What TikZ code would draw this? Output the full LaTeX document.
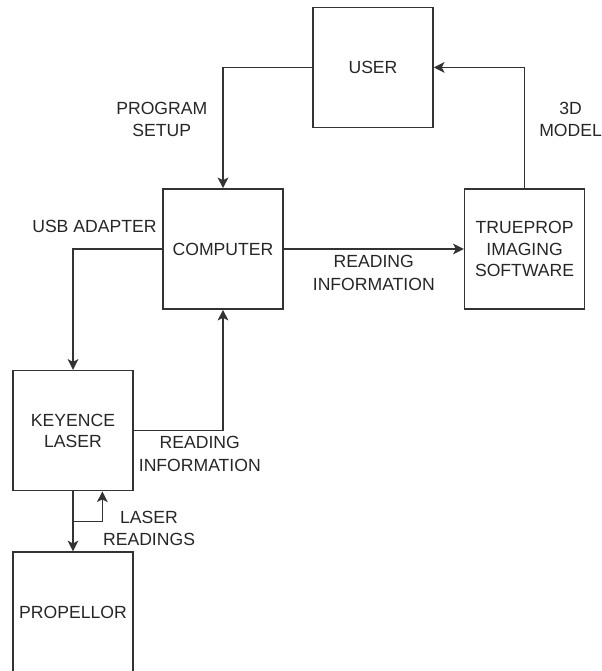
\documentclass[tikz,border=0pt]{standalone}
\usepackage{fontspec}
\setmainfont{Liberation Sans}
\usepackage{tikz}
\usetikzlibrary{arrows.meta,positioning,calc}

\begin{document}
\begin{tikzpicture}[
    node distance=45pt,
    font=\fontsize{13.2pt}{15.8pt}\selectfont,
    every node/.style={text=black!85},
    block/.style={rectangle, draw=black!80, line width=1.2pt, minimum width=90pt, minimum height=90pt, align=center, inner sep=2pt},
    lbl/.style={align=center, inner sep=0pt, font=\fontsize{13.2pt}{17pt}\selectfont},
    line/.style={draw=black!80, line width=1.1pt, -{Stealth[length=8pt, width=8pt, inset=2pt]}}
]
\useasboundingbox (-167.25pt,-316.5pt) rectangle (284.25pt,186.75pt);

% ----------------------------
% Nodes
% ----------------------------
\node[block] (computer) {COMPUTER};
\node[block, above=of computer, xshift=112.5pt] (user) {USER};
\node[block, right=135pt of computer] (trueprop) {TRUEPROP\\IMAGING\\SOFTWARE};
\node[block, below=of computer, xshift=-112.5pt] (keyence) {KEYENCE\\LASER};
\node[block, below=of keyence] (propellor) {PROPELLOR};

\coordinate (lasertap) at ($(keyence.south)!0.5!(propellor.north)$);
\coordinate (laserin) at ([xshift=22pt]keyence.south);

% ----------------------------
% Edges
% ----------------------------
\path[line] (user.west) -| node[lbl, pos=0.715, left=11.25pt] {PROGRAM\\SETUP} (computer.north);
\path[line] (trueprop.north) |- node[lbl, pos=0.285, right=10.5pt] {3D\\MODEL} (user.east);

\path[line] (computer.east) -- node[lbl, below=4pt] {READING\\INFORMATION} (trueprop.west);
\path[line] (computer.west) -| node[lbl, pos=0.38, above=12pt] {USB ADAPTER} (keyence.north);
\path[line] (keyence.east) -| node[lbl, pos=0.37, below=4pt] {READING\\INFORMATION} (computer.south);

% Laser to propellor and back
\path[line] (keyence.south) -- (propellor.north);
\path[line] (lasertap) -| node[lbl, pos=0.5, anchor=west, yshift=-5.25pt] {LASER\\READINGS} (laserin);

\end{tikzpicture}
\end{document}
